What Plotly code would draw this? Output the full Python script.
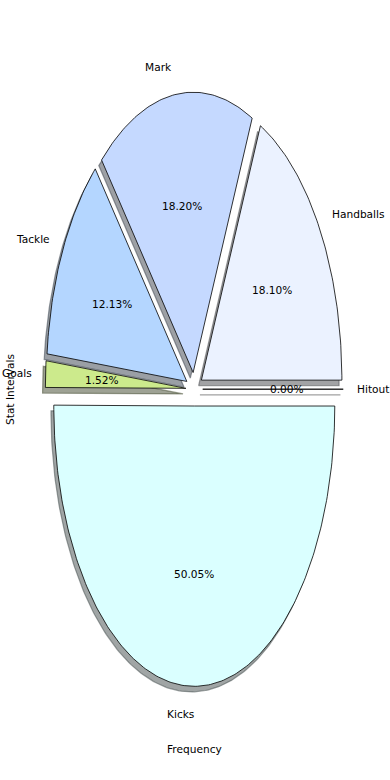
import numpy as np
import plotly.graph_objects as go

# ---- data ----
categories = ["Handballs", "Mark", "Tackle", "Goals", "Kicks", "Hitout"]
values = [18.10, 18.20, 12.13, 1.52, 50.05, 0.00]
colors = ["#EBF2FF", "#C5D9FF", "#B4D6FF", "#CCEA8C", "#DAFFFF", "#E0E0E0"]
x_title = "Frequency"
y_title = "Stat Intervals"

# ---- style ----
explode = 0.06
label_dist = 1.1
pct_dist = 0.6
shadow_off = (-0.02, -0.02)
font = dict(family="DejaVu Sans", size=10.6, color="black")

W, H = 390, 780
cx_px, cy_px = 194.3, 389.2
rx_px, ry_px = 140.5, 280.3
xr = [-cx_px / rx_px, (W - cx_px) / rx_px]
yr = [-(H - cy_px) / ry_px, cy_px / ry_px]


def hex2rgb(h):
    h = h.lstrip("#")
    return tuple(int(h[i:i + 2], 16) for i in (0, 2, 4))


total = float(sum(values))
fracs = [v / total for v in values]
starts = np.concatenate([[0.0], np.cumsum(fracs)[:-1]]) * 360.0
ends = np.cumsum(fracs) * 360.0

wedges = []
for cat, f, t1, t2, col in zip(categories, fracs, starts, ends, colors):
    mid = np.deg2rad((t1 + t2) / 2)
    ox, oy = explode * np.cos(mid), explode * np.sin(mid)
    n = max(2, int(np.ceil((t2 - t1) / 360 * 400)) + 1)
    th = np.deg2rad(np.linspace(t1, t2, n))
    xs = np.concatenate([[ox], ox + np.cos(th), [ox]])
    ys = np.concatenate([[oy], oy + np.sin(th), [oy]])
    wedges.append((cat, f, mid, ox, oy, xs, ys, col))

fig = go.Figure()

# shadows (below all wedges)
for cat, f, mid, ox, oy, xs, ys, col in wedges:
    r, g, b = hex2rgb(col)
    sc = f"rgba({int(0.3*r)},{int(0.3*g)},{int(0.3*b)},0.5)"
    fig.add_trace(go.Scatter(
        x=xs + shadow_off[0], y=ys + shadow_off[1], mode="lines",
        fill="toself", fillcolor=sc, line=dict(color=sc, width=1.2),
        hoverinfo="skip", showlegend=False))

# wedges
for cat, f, mid, ox, oy, xs, ys, col in wedges:
    fig.add_trace(go.Scatter(
        x=xs, y=ys, mode="lines", fill="toself", fillcolor=col,
        line=dict(color="black", width=0.8), name=cat,
        hoverinfo="name", showlegend=False))

annotations = []
for cat, f, mid, ox, oy, xs, ys, col in wedges:
    xt = ox + label_dist * np.cos(mid)
    yt = oy + label_dist * np.sin(mid)
    annotations.append(dict(
        x=xt, y=yt, xref="x", yref="y", text=cat, showarrow=False,
        xanchor="left" if xt > 0 else "right", yanchor="middle", font=font,
        borderpad=0, borderwidth=0))
    xp = ox + pct_dist * np.cos(mid)
    yp = oy + pct_dist * np.sin(mid)
    annotations.append(dict(
        x=xp, y=yp, xref="x", yref="y", text=f"{f*100:.2f}%", showarrow=False,
        xanchor="center", yanchor="middle", font=font,
        borderpad=0, borderwidth=0))

annotations.append(dict(
    x=194 / W, y=1 - 749 / H, xref="paper", yref="paper", text=x_title,
    showarrow=False, xanchor="center", yanchor="middle", font=font,
    borderpad=0, borderwidth=0))
annotations.append(dict(
    x=10 / W, y=1 - 390 / H, xref="paper", yref="paper", text=y_title,
    showarrow=False, xanchor="center", yanchor="middle", textangle=-90, font=font,
    borderpad=0, borderwidth=0))

fig.update_layout(
    width=W, height=H, margin=dict(l=0, r=0, t=0, b=0),
    paper_bgcolor="white", plot_bgcolor="white",
    xaxis=dict(range=xr, visible=False, fixedrange=True),
    yaxis=dict(range=yr, visible=False, fixedrange=True),
    annotations=annotations, font=font,
)

fig.write_html(
    "out.html",
    config={"displayModeBar": False},
    post_script="document.body.style.margin='0';document.body.style.overflow='hidden';",
)
